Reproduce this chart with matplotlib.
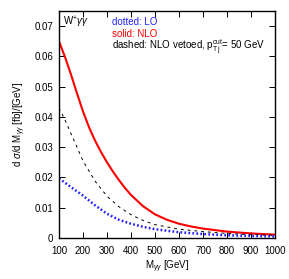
import numpy as np
import matplotlib
matplotlib.use("Agg")
import matplotlib.pyplot as plt

plt.rcParams['font.family'] = ['Liberation Sans', 'DejaVu Sans']
plt.rcParams['mathtext.fontset'] = 'custom'
plt.rcParams['mathtext.rm'] = 'Liberation Sans'
plt.rcParams['mathtext.it'] = 'Liberation Sans:italic'

# values
m_nlo = [100, 125, 150, 175, 200, 225, 250, 275, 300, 325, 350, 375, 400, 450, 500, 550, 600,
         650, 700, 800, 900, 1000]
nlo = [0.065, 0.0598, 0.054, 0.0478, 0.0418, 0.0366, 0.0322, 0.0284, 0.025, 0.0219, 0.0191,
       0.0165, 0.0142, 0.0105, 0.0078, 0.006, 0.0047, 0.0038, 0.0031, 0.0021, 0.0015, 0.0011]

m_lo = [100, 150, 200, 250, 300, 350, 400, 450, 500, 600, 700, 800, 900, 1000]
lo = [0.0197, 0.0168, 0.014, 0.0108, 0.008, 0.006, 0.0047, 0.0037, 0.0029, 0.0019,
      0.0013, 0.0009, 0.0007, 0.0005]

m_veto = [100, 125, 150, 175, 200, 250, 300, 350, 400, 450, 500, 600, 700, 800, 900, 1000]
veto = [0.043, 0.039, 0.0345, 0.030, 0.0255, 0.0188, 0.0138, 0.0103, 0.0077, 0.0058, 0.0044,
        0.0029, 0.0021, 0.0015, 0.0011, 0.0009]

xticks = list(range(100, 1001, 100))
yticks = [0, 0.01, 0.02, 0.03, 0.04, 0.05, 0.06, 0.07]
ylabels = ['0', '0.01', '0.02', '0.03', '0.04', '0.05', '0.06', '0.07']

fig = plt.figure(figsize=(2.89, 2.79), dpi=100)
ax = fig.add_axes([0.204, 0.147, 0.748, 0.814])

ax.plot(m_nlo, nlo, color='#ff0000', lw=1.5, solid_capstyle='butt')
ax.plot(m_veto, veto, color='black', lw=0.7, dashes=(3, 4))
ax.plot(m_lo, lo, color='#2020ff', lw=1.8, linestyle=(0, (0.7, 0.9)))

ax.set_xlim(100, 1000)
ax.set_ylim(0, 0.075)
ax.set_xticks(xticks)
ax.set_yticks(yticks)
ax.set_yticklabels(ylabels)
ax.tick_params(direction='in', length=4, width=0.7, labelsize=7,
               top=True, right=True)
ax.tick_params(axis='x', pad=6)
ax.tick_params(axis='y', pad=4)
for s in ax.spines.values():
    s.set_linewidth(1.0)

ax.set_xlabel(r'M$_{\gamma\gamma}$ [GeV]', fontsize=7, labelpad=2)
ax.set_ylabel(r'd $\sigma$/d M$_{\gamma\gamma}$ [fb]/[GeV]', fontsize=7, labelpad=5)

ax.text(0.02, 0.951, r'W$^{+}\gamma\gamma$', transform=ax.transAxes,
        fontsize=7, va='center', ha='left')
ax.text(0.245, 0.951, 'dotted: LO', color='#2020ff', transform=ax.transAxes,
        fontsize=7, va='center', ha='left')
ax.text(0.245, 0.899, 'solid: NLO', color='#ff0000', transform=ax.transAxes,
        fontsize=7, va='center', ha='left')
ax.text(0.245, 0.84, r'dashed: NLO vetoed, p$_{\rm T\,j}^{\rm cut}$= 50 GeV',
        color='black', transform=ax.transAxes, fontsize=7, va='center', ha='left')

fig.savefig('out.png', dpi=100)
